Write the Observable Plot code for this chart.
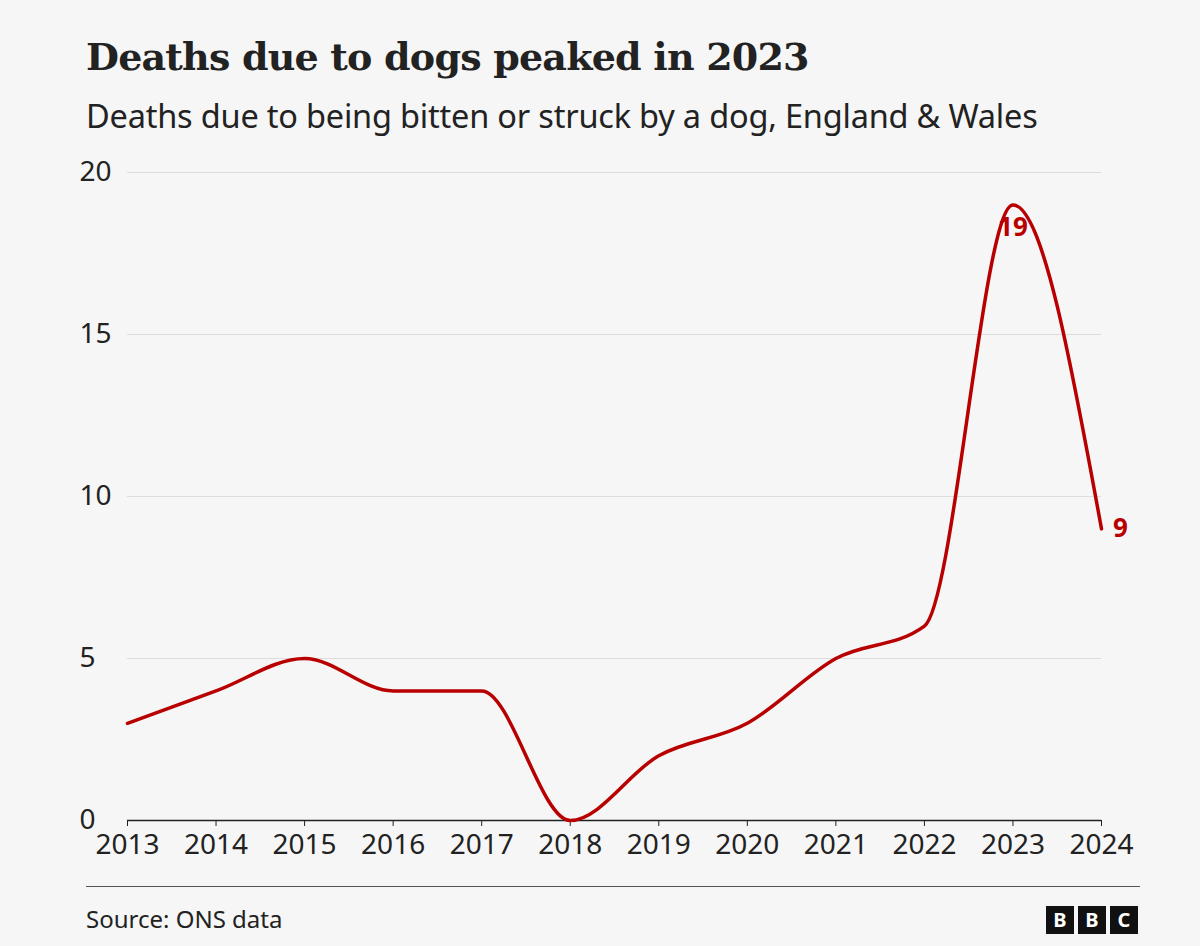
<!DOCTYPE html>
<html><head><meta charset="utf-8">
<script src="https://cdn.jsdelivr.net/npm/d3@7"></script>
<script src="https://cdn.jsdelivr.net/npm/@observablehq/plot@0.6"></script>
<style>
body{margin:0;background:#f6f6f6;width:1200px;height:946px;overflow:hidden;font-family:"Noto Sans",sans-serif;color:#222}
#t{position:absolute;left:86px;top:34px;font:bold 38px "DejaVu Serif",serif;letter-spacing:-0.8px}
#s{position:absolute;left:86px;top:93px;font-size:32.5px;letter-spacing:-0.2px}
#c{position:absolute;left:0;top:150px}
#rule{position:absolute;left:86px;top:886px;width:1054px;border-top:1px solid #555}
#src{position:absolute;left:86px;top:902px;font-size:24px}
#bbc{position:absolute;left:1046px;top:906px;display:flex;gap:4px}
#bbc span{width:28px;height:28px;background:#111;color:#fff;font:bold 20px "Noto Sans";text-align:center;line-height:28px}
</style></head><body>
<div id="t">Deaths due to dogs peaked in 2023</div>
<div id="s">Deaths due to being bitten or struck by a dog, England &amp; Wales</div>
<div id="c"></div>
<div id="rule"></div>
<div id="src">Source: ONS data</div>
<div id="bbc"><span>B</span><span>B</span><span>C</span></div>
<script>
const years=[2013,2014,2015,2016,2017,2018,2019,2020,2021,2022,2023,2024];
const deaths=[3,4,5,4,4,0,2,3,5,6,19,9];
const yTicks=[0,5,10,15,20];
const data=years.map((y,i)=>({year:y,deaths:deaths[i]}));
const red="#b80000";
const chart=Plot.plot({
  width:1200,height:720,marginLeft:127,marginRight:99,marginTop:22,marginBottom:50,
  style:{background:"transparent",fontSize:"28px",fontFamily:"Noto Sans",color:"#222"},
  x:{domain:[2013,2024],ticks:years,tickFormat:d=>String(d),label:null},
  y:{domain:[0,20],ticks:yTicks,label:null},
  marks:[
    Plot.gridY(yTicks,{stroke:"#ddd",strokeOpacity:1}),
    Plot.axisY(yTicks,{tickSize:0,textAnchor:"start",dx:-39,fontSize:28}),
    Plot.axisX(years,{tickFormat:d=>String(d),fontSize:28,tickSize:6,tickPadding:8,stroke:"#222"}),
    Plot.ruleY([0],{stroke:"#222",strokeWidth:1.5}),
    Plot.line(data,{x:"year",y:"deaths",curve:"monotone-x",stroke:red,strokeWidth:3.5}),
    Plot.text([data[10]],{x:"year",y:"deaths",text:d=>String(d.deaths),dy:23,fill:red,fontWeight:"bold",fontSize:26}),
    Plot.text([data[11]],{x:"year",y:"deaths",text:d=>String(d.deaths),dx:19,fill:red,fontWeight:"bold",fontSize:26})
  ]
});
document.getElementById("c").append(chart);
</script></body></html>
